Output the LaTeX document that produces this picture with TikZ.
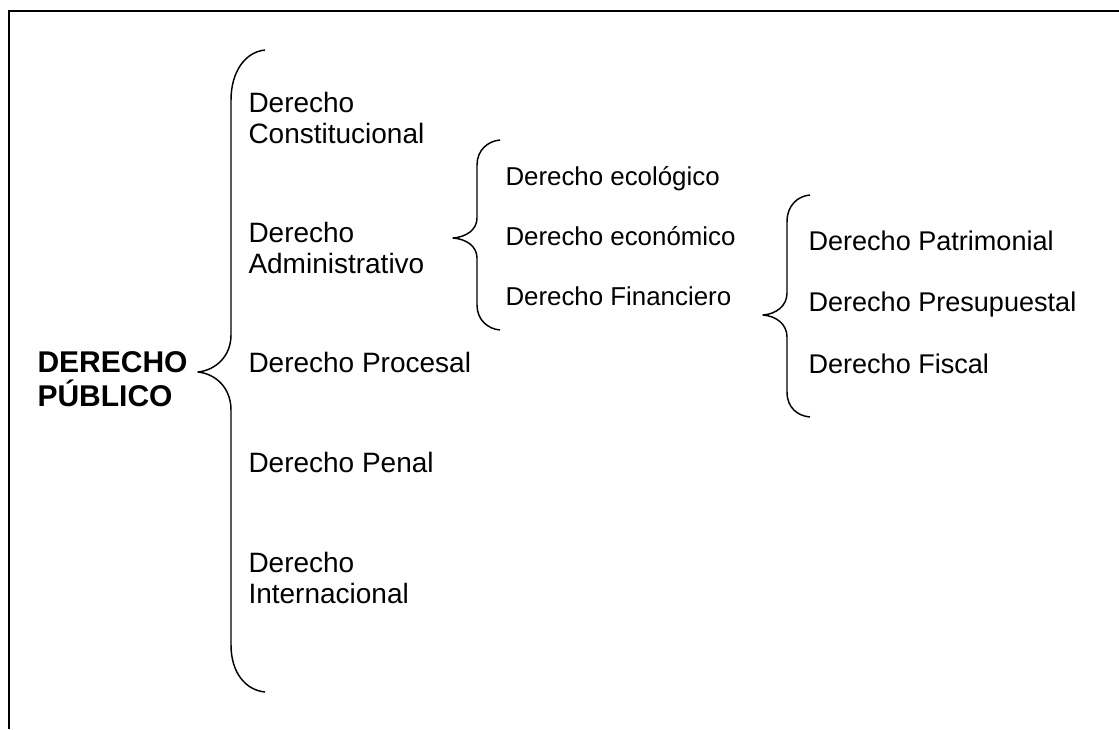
\documentclass[tikz,border=0pt]{standalone}
\usepackage{fontspec}
\setmainfont{Liberation Sans}

\tikzset{every picture/.style={line width=0.75pt}}
\tikzset{
  rama/.style={anchor=base west, inner sep=0pt, align=left, font=\fontsize{21}{23.25}\selectfont},
  subrama/.style={anchor=base west, inner sep=0pt, align=left, font=\fontsize{19.4}{22}\selectfont},
  hoja/.style={anchor=base west, inner sep=0pt, align=left, font=\fontsize{20.3}{22}\selectfont},
  llave/.style={line width=1.1pt, line join=round},
}

\begin{document}
\begin{tikzpicture}[x=0.75pt,y=0.75pt,yscale=-1,xscale=1]
\useasboundingbox (0,0) rectangle (1119,729);

%Frame
\draw [line width=1.6]    (1119,11) -- (9,11) -- (9,729) ;

%Shape: Brace [id:main]
\draw [llave]  (265,50) .. controls (245,52) and (231,72) .. (231,100) -- (231,335) .. controls (231,356) and (216,370) .. (198,372) .. controls (216,374) and (231,388) .. (231,410) -- (231,645) .. controls (231,672) and (245,690) .. (265,692) ;
%Shape: Brace [id:administrativo]
\draw [llave]  (500,140) .. controls (488,141) and (477,150) .. (477,165) -- (477,218) .. controls (477,230) and (466,237) .. (453,238) .. controls (466,239) and (477,246) .. (477,258) -- (477,305) .. controls (477,320) and (488,329) .. (500,330) ;
%Shape: Brace [id:financiero]
\draw [llave]  (810,195) .. controls (798,196) and (787,205) .. (787,222) -- (787,293) .. controls (787,306) and (776,314) .. (763,315) .. controls (776,316) and (787,324) .. (787,337) -- (787,392) .. controls (787,408) and (798,416) .. (810,417) ;

% Text Node (base = last line)
\node (dp) [anchor=base west, inner sep=0pt, align=left, font=\bfseries\fontsize{22.5}{25.5}\selectfont] at (37,406) {DERECHO\\PÚBLICO};

% Text Node
\node (constitucional) [rama] at (248,143) {Derecho\\Constitucional};
% Text Node
\node (administrativo) [rama] at (248,273) {Derecho\\Administrativo};
% Text Node
\node (procesal) [rama] at (248,372) {Derecho Procesal};
% Text Node
\node (penal) [rama] at (248,472) {Derecho Penal};
% Text Node
\node (internacional) [rama] at (248,603) {Derecho\\Internacional};

% Text Node
\node (ecologico) [subrama] at (505,185) {Derecho ecológico};
% Text Node
\node (economico) [subrama] at (505,245) {Derecho económico};
% Text Node
\node (financiero) [subrama] at (505,305) {Derecho Financiero};

% Text Node
\node (patrimonial) [hoja] at (808,250) {Derecho Patrimonial};
% Text Node
\node (presupuestal) [hoja] at (808,311) {Derecho Presupuestal};
% Text Node
\node (fiscal) [hoja] at (808,373) {Derecho Fiscal};

\end{tikzpicture}
\end{document}
